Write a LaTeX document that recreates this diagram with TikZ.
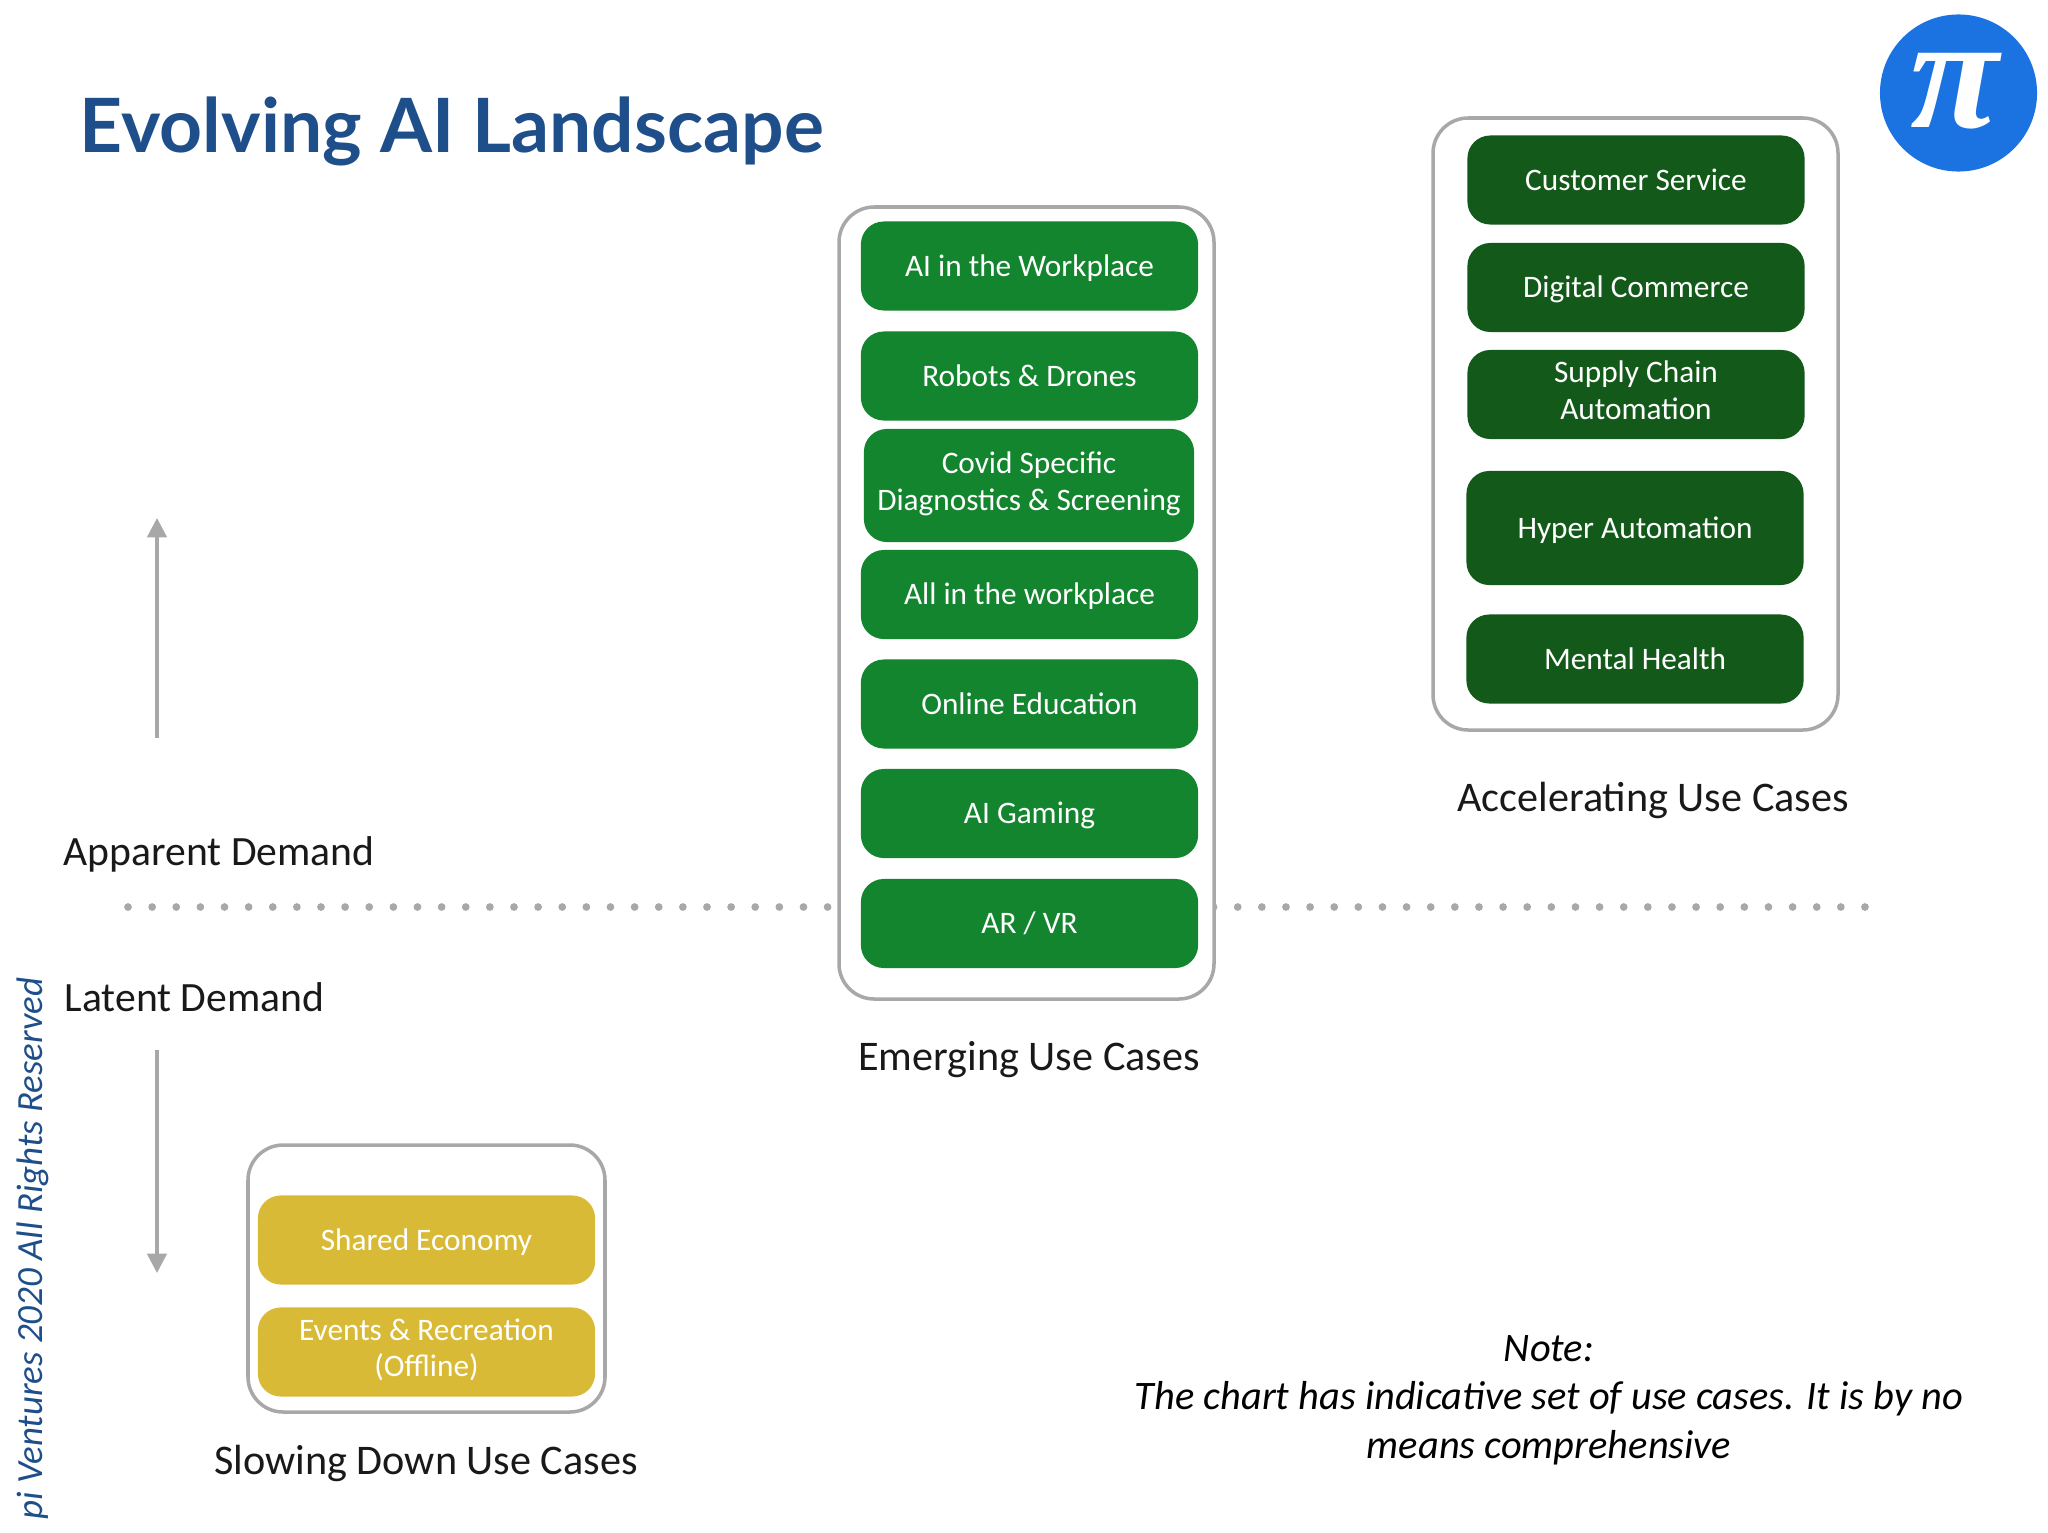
\documentclass[tikz,border=0pt]{standalone}
\usepackage{fontspec}
\setmainfont{Carlito}
\newfontfamily\titlefont{Lato}
\newfontfamily\logofont{Liberation Serif}
\usetikzlibrary{arrows.meta}
\definecolor{titleblue}{HTML}{1F4F8A}
\definecolor{logoblue}{HTML}{1A73E0}
\definecolor{emerging}{HTML}{14852F}
\definecolor{accel}{HTML}{135A1A}
\definecolor{slowing}{HTML}{D9BA36}
\definecolor{frame}{HTML}{A8A8A8}
\newcommand{\casestrut}{\rule[-2.4pt]{0pt}{10.6pt}}

\begin{document}
\begin{tikzpicture}
	[
	x=0.01cm, y=-0.01cm,
	case/.style = {rounded corners=6.5pt, text=white, align=center, inner sep=0pt, minimum width=3.37cm, minimum height=0.89cm, font=\fontsize{8.9}{10.4}\selectfont, execute at begin node=\casestrut, execute at end node=\casestrut},
	twolines/.style = {execute at begin node={\rule{0pt}{10.4pt}}},
	emergingcase/.style = {case, fill=emerging},
	accelcase/.style = {case, fill=accel},
	slowcase/.style = {case, fill=slowing},
	group/.style = {draw=frame, line width=1pt, fill=white, rounded corners=10pt},
	caption/.style = {font=\fontsize{12}{14}\selectfont, text=black!90, inner sep=0pt},
	demand/.style = {draw=frame, line width=1pt, -{Triangle[length=5.5pt,width=5.5pt]}}
	]
	\useasboundingbox (0,0) rectangle (2048,1533);
	\node[anchor=west, inner sep=0pt, text=titleblue, font=\titlefont\bfseries\fontsize{21.3}{26}\selectfont] (title) at (79,131) {Evolving AI Landscape};
	\node[circle, fill=logoblue, inner sep=0pt, minimum size=1.57cm] (logo) at (1958.5,93) {};
	\node[text=white, inner sep=0pt, font=\logofont\bfseries\itshape\fontsize{46}{46}\selectfont] (logopi) at (1955,91) {π};
	\node[rotate=90, anchor=west, inner sep=0pt, text=titleblue, font=\itshape\fontsize{10.5}{12}\selectfont] (rights) at (33,1520) {pi Ventures 2020 All Rights Reserved};

	% demand axis
	\coordinate (dotsL) at (128,907);
	\coordinate (dotsR) at (1872,907);
	\draw[frame, line width=2.2pt, line cap=round, dash pattern=on 0pt off 6.86pt] (dotsL) -- (dotsR);
	\coordinate (upS) at (157,738);
	\coordinate (upE) at (157,518);
	\coordinate (downS) at (157,1050);
	\coordinate (downE) at (157,1273);
	\draw[demand] (upS) -- (upE);
	\draw[demand] (downS) -- (downE);
	\node[caption, anchor=west, font=\fontsize{11.85}{14}\selectfont] (apparent) at (63,854) {Apparent Demand};
	\node[caption, anchor=west, font=\fontsize{11.85}{14}\selectfont] (latent) at (64,997) {Latent Demand};

	% emerging
	\draw[group] (839,207) rectangle (1214,999);
	\node[emergingcase] (workplace) at (1029.5,266) {AI in the Workplace};
	\node[emergingcase] (robots) at (1029.5,376) {Robots \& Drones};
	\node[emergingcase, twolines, minimum width=3.3cm, minimum height=1.13cm] (covid) at (1029,485.5) {Covid Specific\\Diagnostics \& Screening};
	\node[emergingcase] (allwork) at (1029.5,594.5) {All in the workplace};
	\node[emergingcase] (education) at (1029.5,704) {Online Education};
	\node[emergingcase] (gaming) at (1029.5,813.5) {AI Gaming};
	\node[emergingcase] (arvr) at (1029.5,923.5) {AR / VR};
	\node[caption] (emergingcap) at (1029,1060) {Emerging Use Cases};

	% accelerating
	\draw[group] (1433,118) rectangle (1838,730);
	\node[accelcase] (service) at (1636,180) {Customer Service};
	\node[accelcase] (commerce) at (1636,287.5) {Digital Commerce};
	\node[accelcase, twolines] (supply) at (1636,394.5) {Supply Chain\\Automation};
	\node[accelcase, minimum height=1.14cm] (hyper) at (1635,528) {Hyper Automation};
	\node[accelcase] (mental) at (1635,659) {Mental Health};
	\node[caption] (accelcap) at (1653,800) {Accelerating Use Cases};

	% slowing
	\draw[group] (248,1145) rectangle (605,1412);
	\node[slowcase] (shared) at (426.5,1240) {Shared Economy};
	\node[slowcase, twolines] (events) at (426.5,1352) {Events \& Recreation\\(Offline)};
	\node[caption] (slowcap) at (426,1463) {Slowing Down Use Cases};

	\node[inner sep=0pt, align=center, font=\itshape\fontsize{11.5}{13.8}\selectfont] (note) at (1549,1400) {Note:\\The chart has indicative set of use cases. It is by no\\means comprehensive};
\end{tikzpicture}
\end{document}
